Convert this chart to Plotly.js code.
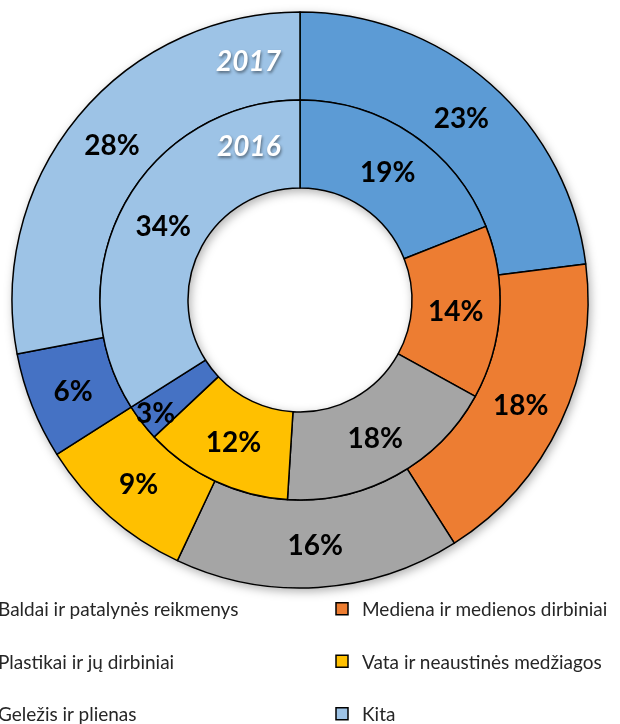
<!DOCTYPE html>
<html><head><meta charset="utf-8">
<script src="https://cdn.plot.ly/plotly-3.0.1.min.js"></script>
<style>
html,body{margin:0;padding:0;overflow:hidden;background:#fff;width:620px;height:724px;}
#chart{position:absolute;left:-120px;top:0;width:740px;height:724px;}
</style></head><body><div id="chart"></div>
<script>
const categories = ["Baldai ir patalynės reikmenys","Mediena ir medienos dirbiniai","Plastikai ir jų dirbiniai","Vata ir neaustinės medžiagos","Geležis ir plienas","Kita"];
const values2017 = [23,18,16,9,6,28];
const values2016 = [19,14,18,12,3,34];
const yearLabels = ["2017","2016"];
const colors = ["#5B9BD5","#ED7D31","#A5A5A5","#FFC000","#4472C4","#9DC3E6"];

const W = 740, H = 724, OFF = 120;
const cx = 300 + OFF, cy = 300;
const rOuter = 288, rMid = 200, rInner = 112;
function dom(r){ return {x:[(cx-r)/W,(cx+r)/W], y:[(H-cy-r)/H,(H-cy+r)/H]}; }
const legendLabels = categories.map(c => c + "<br> ");

const common = {
  type:'pie', labels: legendLabels, sort:false, direction:'clockwise', rotation:0,
  marker:{colors: colors, line:{color:'#000', width:1.5}},
  textinfo:'percent', texttemplate:'%{percent:.0%}', textposition:'inside',
  insidetextorientation:'horizontal',
  textfont:{family:'Lato', size:28, color:'#000', weight:700},
  hoverinfo:'label+percent'
};
const data = [
  Object.assign({}, common, {values: values2017, name: yearLabels[0], domain: dom(rOuter), hole: rMid/rOuter}),
  Object.assign({}, common, {values: values2016, name: yearLabels[1], domain: dom(rMid), hole: rInner/rMid})
];
const yearPos = [60, 145];
const annotations = yearLabels.map((t,i) => ({
  text: t, xref:'paper', yref:'paper', x:(249+OFF)/W, y:1-yearPos[i]/H,
  xanchor:'center', yanchor:'middle', showarrow:false,
  font:{family:'Lato', size:28, color:'#fff', weight:700, style:'italic', shadow:'1px 2px 3px rgba(0,0,0,0.45)'}
}));
const layout = {
  width: W, height: H, margin:{l:0,r:0,t:0,b:0,autoexpand:false},
  paper_bgcolor:'#fff', showlegend:true,
  legend:{orientation:'h', x:78/W, xanchor:'left', y:1-590/H, yanchor:'top',
    entrywidth:319, entrywidthmode:'pixels', valign:'top', bgcolor:'rgba(0,0,0,0)',
    font:{family:'Lato', size:19, color:'#262626'}, traceorder:'normal'},
  uniformtext:{mode:'show', minsize:28},
  annotations: annotations
};
Plotly.newPlot('chart', data, layout, {displayModeBar:false, staticPlot:true}).then(function(gd){
  const ns = 'http://www.w3.org/2000/svg';
  const svg = gd.querySelector('svg.main-svg');
  let defs = svg.querySelector('defs');
  if(!defs){ defs = document.createElementNS(ns,'defs'); svg.insertBefore(defs, svg.firstChild); }
  const f = document.createElementNS(ns,'filter');
  f.setAttribute('id','donutShadow');
  f.setAttribute('x','-15%'); f.setAttribute('y','-15%');
  f.setAttribute('width','130%'); f.setAttribute('height','130%');
  const ds = document.createElementNS(ns,'feDropShadow');
  ds.setAttribute('dx','2'); ds.setAttribute('dy','3');
  ds.setAttribute('stdDeviation','5');
  ds.setAttribute('flood-color','#000'); ds.setAttribute('flood-opacity','0.3');
  f.appendChild(ds); defs.appendChild(f);
  const pl = gd.querySelector('.pielayer');
  if(pl) pl.setAttribute('filter','url(#donutShadow)');
});
</script></body></html>
